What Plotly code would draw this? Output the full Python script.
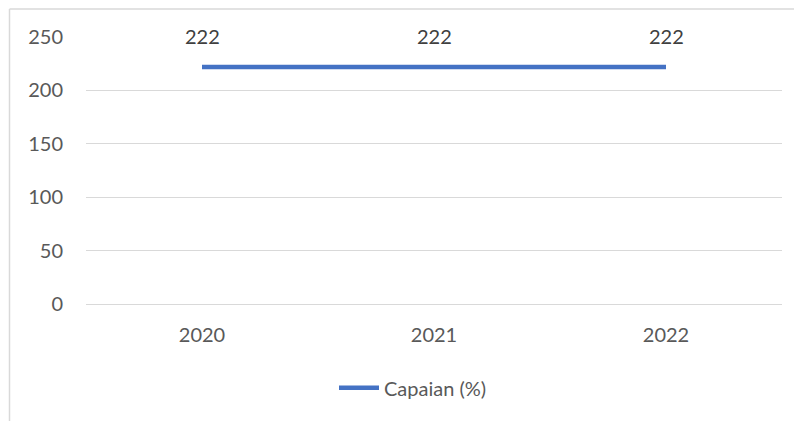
import plotly.graph_objects as go

years = ["2020", "2021", "2022"]
capaian = [222, 222, 222]
series_name = "Capaian (%)"
y_ticks = [0, 50, 100, 150, 200, 250]

# page body has an 8px margin; figure coordinates are screen minus 8
W, H = 794, 413
ml, mr, mt, mb = 78, 20, 28.5, 117
pw, ph = W - ml - mr, H - mt - mb
FONT = "Lato, Open Sans, sans-serif"

fig = go.Figure()
fig.add_trace(go.Scatter(
    x=years, y=capaian, mode="lines", name=series_name,
    line=dict(color="#4472C4", width=4.5),
))
for i, yv in enumerate(capaian):
    fig.add_annotation(x=i, y=yv, xref="x", yref="y", text=str(yv), showarrow=False, yshift=31,
                       font=dict(family=FONT, size=20, color="#404040"))

grid = "#d9d9d9"
fig.update_layout(
    width=W, height=H,
    margin=dict(l=ml, r=mr, t=mt, b=mb),
    paper_bgcolor="white", plot_bgcolor="white",
    font=dict(family=FONT, size=20, color="#595959"),
    showlegend=True,
    legend=dict(orientation="h", x=(405 - ml) / pw, xanchor="center",
                y=(mt + ph - 380) / ph, yanchor="middle",
                font=dict(size=20, color="#595959"), itemwidth=40),
    xaxis=dict(type="category", range=[-0.5, 2.5], showgrid=False, zeroline=False,
               showline=True, linecolor=grid, linewidth=1, ticks="", ticklabelstandoff=13),
    yaxis=dict(range=[0, 250], tickvals=y_ticks, showgrid=True, gridcolor=grid, gridwidth=1,
               zeroline=False, showline=False, ticks="", ticklabelstandoff=22),
    shapes=[
        dict(type="line", xref="paper", yref="paper",
             x0=(1.5 - ml) / pw, x1=(1.5 - ml) / pw, y0=(mt + ph - 0.5) / ph, y1=(mt + ph - H - 5) / ph,
             line=dict(color=grid, width=1.5)),
        dict(type="line", xref="paper", yref="paper",
             x0=(1.5 - ml) / pw, x1=(W + 5 - ml) / pw, y0=(mt + ph - 0.5) / ph, y1=(mt + ph - 0.5) / ph,
             line=dict(color=grid, width=1.5)),
    ],
)
fig.write_html("out.html")
